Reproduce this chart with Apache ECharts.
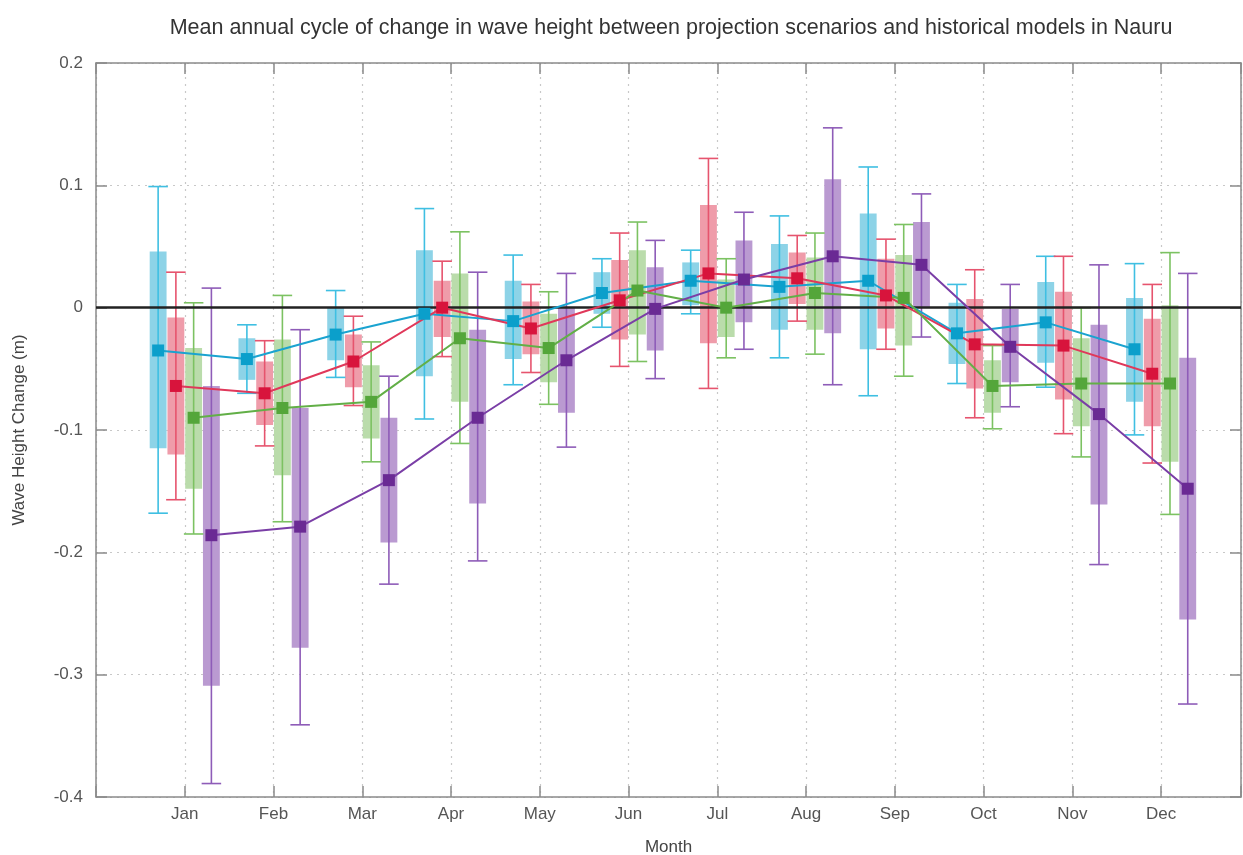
<!DOCTYPE html>
<html>
<head>
<meta charset="utf-8">
<script src="https://cdn.jsdelivr.net/npm/echarts@6/dist/echarts.min.js"></script>
<style>
  html, body { margin: 0; padding: 0; background: #fff; }
  #chart { width: 1243px; height: 855px; }
</style>
</head>
<body>
<div id="chart"></div>
<script>
// months on the x axis
const months = ['Jan', 'Feb', 'Mar', 'Apr', 'May', 'Jun', 'Jul', 'Aug', 'Sep', 'Oct', 'Nov', 'Dec'];
const yTicks = [0.2, 0.1, 0, -0.1, -0.2, -0.3, -0.4];

// cyan scenario
const cyanMean  = [-0.035, -0.042, -0.022, -0.005, -0.011, 0.012, 0.022, 0.017, 0.022, -0.021, -0.012, -0.034];
const cyanBoxHi = [0.046, -0.025, 0.000, 0.047, 0.022, 0.029, 0.037, 0.052, 0.077, 0.004, 0.021, 0.008];
const cyanBoxLo = [-0.115, -0.059, -0.043, -0.056, -0.042, -0.005, 0.002, -0.018, -0.034, -0.046, -0.045, -0.077];
const cyanWhHi  = [0.099, -0.014, 0.014, 0.081, 0.043, 0.040, 0.047, 0.075, 0.115, 0.019, 0.042, 0.036];
const cyanWhLo  = [-0.168, -0.070, -0.057, -0.091, -0.063, -0.016, -0.005, -0.041, -0.072, -0.062, -0.065, -0.104];

// red scenario
const redMean  = [-0.064, -0.070, -0.044, 0.000, -0.017, 0.006, 0.028, 0.024, 0.010, -0.030, -0.031, -0.054];
const redBoxHi = [-0.008, -0.044, -0.022, 0.022, 0.005, 0.039, 0.084, 0.045, 0.040, 0.007, 0.013, -0.009];
const redBoxLo = [-0.120, -0.096, -0.065, -0.024, -0.038, -0.026, -0.029, 0.003, -0.017, -0.066, -0.075, -0.097];
const redWhHi  = [0.029, -0.027, -0.007, 0.038, 0.019, 0.061, 0.122, 0.059, 0.056, 0.031, 0.042, 0.019];
const redWhLo  = [-0.157, -0.113, -0.080, -0.040, -0.053, -0.048, -0.066, -0.011, -0.034, -0.090, -0.103, -0.127];

// green scenario
const greenMean  = [-0.090, -0.082, -0.077, -0.025, -0.033, 0.014, 0.000, 0.012, 0.008, -0.064, -0.062, -0.062];
const greenBoxHi = [-0.033, -0.026, -0.047, 0.028, -0.005, 0.047, 0.023, 0.041, 0.043, -0.043, -0.025, 0.002];
const greenBoxLo = [-0.148, -0.137, -0.107, -0.077, -0.061, -0.022, -0.024, -0.018, -0.031, -0.086, -0.097, -0.126];
const greenWhHi  = [0.004, 0.010, -0.028, 0.062, 0.013, 0.070, 0.040, 0.061, 0.068, -0.031, 0.000, 0.045];
const greenWhLo  = [-0.185, -0.175, -0.126, -0.111, -0.079, -0.044, -0.041, -0.038, -0.056, -0.099, -0.122, -0.169];

// purple scenario
const purpleMean  = [-0.186, -0.179, -0.141, -0.090, -0.043, -0.001, 0.023, 0.042, 0.035, -0.032, -0.087, -0.148];
const purpleBoxHi = [-0.064, -0.082, -0.090, -0.018, 0.000, 0.033, 0.055, 0.105, 0.070, -0.001, -0.014, -0.041];
const purpleBoxLo = [-0.309, -0.278, -0.192, -0.160, -0.086, -0.035, -0.012, -0.021, 0.000, -0.061, -0.161, -0.255];
const purpleWhHi  = [0.016, -0.018, -0.056, 0.029, 0.028, 0.055, 0.078, 0.147, 0.093, 0.019, 0.035, 0.028];
const purpleWhLo  = [-0.389, -0.341, -0.226, -0.207, -0.114, -0.058, -0.034, -0.063, -0.024, -0.081, -0.210, -0.324];

const FONT = "'Liberation Sans', Arial, sans-serif";
const BOX_W = 0.19;   // in months
const CAP_W = 0.22;

// one entry per scenario: offset from month centre and colours
const groups = [
  { name: 'cyan',   off: -0.3, mean: cyanMean,   boxLo: cyanBoxLo,   boxHi: cyanBoxHi,   whLo: cyanWhLo,   whHi: cyanWhHi,
    line: '#1aa3d0', mark: '#0b9fcb', box: '#8dd3e7', whisk: '#3fbfe2' },
  { name: 'red',    off: -0.1, mean: redMean,    boxLo: redBoxLo,    boxHi: redBoxHi,    whLo: redWhLo,    whHi: redWhHi,
    line: '#e0385a', mark: '#d8143c', box: '#ef9caa', whisk: '#e6546e' },
  { name: 'green',  off: 0.1,  mean: greenMean,  boxLo: greenBoxLo,  boxHi: greenBoxHi,  whLo: greenWhLo,  whHi: greenWhHi,
    line: '#62af47', mark: '#54a63a', box: '#badcab', whisk: '#7cc262' },
  { name: 'purple', off: 0.3,  mean: purpleMean, boxLo: purpleBoxLo, boxHi: purpleBoxHi, whLo: purpleWhLo, whHi: purpleWhHi,
    line: '#7a3ea6', mark: '#6a2a94', box: '#ba9ad1', whisk: '#8e5cb8' }
];

function boxRenderer(fill) {
  return function (params, api) {
    const x = api.value(0);
    const lo = api.coord([x, api.value(1)]);
    const hi = api.coord([x, api.value(2)]);
    const w = api.size([BOX_W, 0])[0];
    return {
      type: 'rect',
      shape: { x: lo[0] - w / 2, y: hi[1], width: w, height: lo[1] - hi[1] },
      style: { fill: fill }
    };
  };
}

function whiskerRenderer(stroke) {
  return function (params, api) {
    const x = api.value(0);
    const lo = api.coord([x, api.value(1)]);
    const hi = api.coord([x, api.value(2)]);
    const c = api.size([CAP_W, 0])[0] / 2;
    const st = { stroke: stroke, lineWidth: 1.6 };
    return {
      type: 'group',
      children: [
        { type: 'line', shape: { x1: lo[0], y1: lo[1], x2: hi[0], y2: hi[1] }, style: st },
        { type: 'line', shape: { x1: lo[0] - c, y1: lo[1], x2: lo[0] + c, y2: lo[1] }, style: st },
        { type: 'line', shape: { x1: hi[0] - c, y1: hi[1], x2: hi[0] + c, y2: hi[1] }, style: st }
      ]
    };
  };
}

let series = [];
groups.forEach(function (g) {
  series.push({
    type: 'custom', name: g.name + ' box', z: 1, silent: true,
    renderItem: boxRenderer(g.box),
    encode: { x: 0, y: [1, 2] },
    data: months.map((m, i) => [i + 1 + g.off, g.boxLo[i], g.boxHi[i]])
  });
});
groups.forEach(function (g) {
  series.push({
    type: 'custom', name: g.name + ' range', z: 2, silent: true,
    renderItem: whiskerRenderer(g.whisk),
    encode: { x: 0, y: [1, 2] },
    data: months.map((m, i) => [i + 1 + g.off, g.whLo[i], g.whHi[i]])
  });
});
groups.forEach(function (g, k) {
  let s = {
    type: 'line', name: g.name, z: 6,
    data: months.map((m, i) => [i + 1 + g.off, g.mean[i]]),
    symbol: 'rect', symbolSize: 12,
    lineStyle: { color: g.line, width: 2 },
    itemStyle: { color: g.mark },
    animation: false
  };
  if (k === 0) {
    // thick zero line
    s.markLine = {
      silent: true, symbol: 'none', z: 5,
      label: { show: false },
      lineStyle: { color: '#222', width: 2.5, type: 'solid' },
      data: [{ yAxis: 0 }]
    };
  }
  series.push(s);
});

const axisLineStyle = { color: '#8a8a8a', width: 1.5 };
const dotted = { show: true, lineStyle: { color: '#c8c8c8', type: [2, 5], width: 1.2 } };

let myChart = echarts.init(document.getElementById('chart'));
let option = {
  animation: false,
  title: {
    text: 'Mean annual cycle of change in wave height between projection scenarios and historical models in Nauru',
    left: 666, top: 12, textAlign: 'center',
    textStyle: { fontFamily: FONT, fontSize: 21.5, fontWeight: 'normal', color: '#333' }
  },
  grid: { left: 96, right: 2, top: 63, bottom: 58, outerBoundsMode: 'none', containLabel: false },
  xAxis: [
    {
      type: 'value', position: 'bottom', min: 0, max: 12.9, interval: 1,
      name: 'Month', nameLocation: 'middle', nameGap: 42,
      nameTextStyle: { fontFamily: FONT, fontSize: 17, color: '#444' },
      axisLine: { onZero: false, lineStyle: axisLineStyle },
      axisTick: { inside: true, length: 11, lineStyle: axisLineStyle },
      axisLabel: {
        fontFamily: FONT, fontSize: 17, color: '#555', margin: 9,
        formatter: function (v) {
          return (Number.isInteger(v) && v >= 1 && v <= 12) ? months[v - 1] : '';
        }
      },
      splitLine: dotted
    },
    {
      type: 'value', position: 'top', min: 0, max: 12.9, interval: 1,
      axisLine: { show: true, onZero: false, lineStyle: axisLineStyle },
      axisTick: { show: true, inside: true, length: 11, lineStyle: axisLineStyle },
      axisLabel: { show: false },
      splitLine: { show: false }
    }
  ],
  yAxis: [
    {
      type: 'value', position: 'left', min: -0.4, max: 0.2, interval: 0.1,
      name: 'Wave Height Change (m)', nameLocation: 'middle', nameGap: 68,
      nameTextStyle: { fontFamily: FONT, fontSize: 17, color: '#444' },
      axisLine: { show: true, onZero: false, lineStyle: axisLineStyle },
      axisTick: { show: true, inside: true, length: 11, lineStyle: axisLineStyle },
      axisLabel: {
        fontFamily: FONT, fontSize: 17, color: '#555', margin: 13,
        formatter: function (v) {
          if (Math.abs(v) < 1e-9) return '0';
          return (Math.round(v * 10) / 10).toFixed(1);
        }
      },
      splitLine: dotted
    },
    {
      type: 'value', position: 'right', min: -0.4, max: 0.2, interval: 0.1,
      axisLine: { show: true, onZero: false, lineStyle: axisLineStyle },
      axisTick: { show: true, inside: true, length: 11, lineStyle: axisLineStyle },
      axisLabel: { show: false },
      splitLine: { show: false }
    }
  ],
  series: series
};
myChart.setOption(option);
window.onresize = myChart.resize;
</script>
</body>
</html>
